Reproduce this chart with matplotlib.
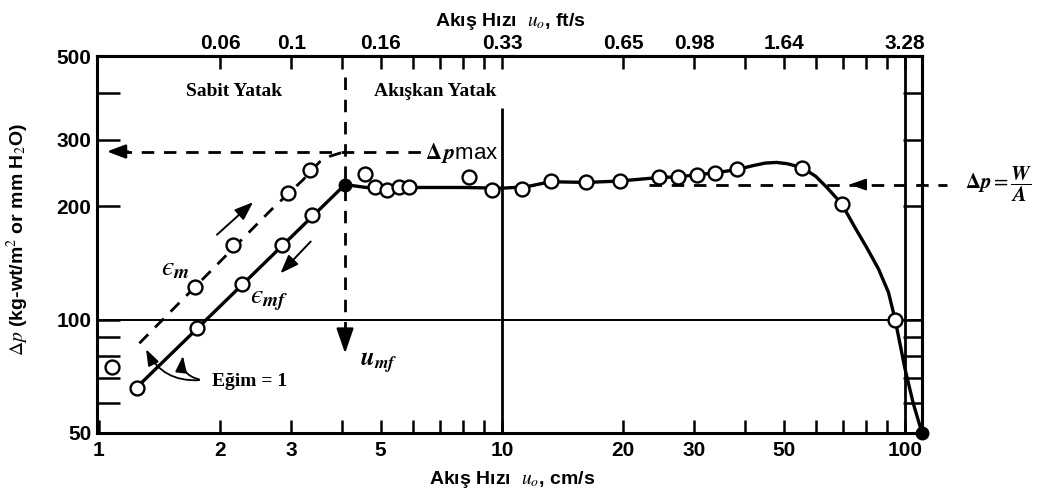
import matplotlib
matplotlib.use("Agg")
import matplotlib.pyplot as plt
from matplotlib.ticker import NullFormatter

plt.rcParams['font.family'] = ['Liberation Sans', 'DejaVu Sans']
plt.rcParams['mathtext.fontset'] = 'stix'

# fixed bed, falling velocity (eps_mf) - open circles
u_fixed = [1.24, 1.75, 2.26, 2.84, 3.37]
dp_fixed = [66, 95, 124, 158, 189]
# fixed bed, rising velocity (eps_m)
u_rise = [1.075, 1.73, 2.15, 2.95, 3.34]
dp_rise = [75, 122, 158, 216, 249]
# fluidized bed points
u_fluid = [4.57, 4.85, 5.19, 5.56, 5.89, 8.27, 9.47, 11.2, 13.2, 16.2, 19.6,
           24.5, 27.3, 30.4, 33.8, 38.4, 55.5, 69.6, 94.5]
dp_fluid = [243, 224, 221, 224, 224, 239, 221, 222, 233, 231, 233,
            239, 239, 242, 245, 250, 253, 203, 100]

# drawn solid curve through the falling-velocity data
curve_u = [1.24, 4.08, 4.6, 6.0, 8.0, 10.0, 11.5, 13.2, 16.2, 19.6, 24.5, 27.3,
           30.4, 33.8, 38.4, 42.0, 45.0, 48.0, 51.0, 55.5, 60.0, 64.0, 69.6,
           75.0, 80.4, 86.0, 91.0, 94.5, 100.0, 104.8, 110.2]
curve_dp = [66, 228, 224, 224, 224, 223, 225, 232, 231, 233, 238, 239,
            242, 245, 250, 256, 260, 261, 259, 253, 240, 224, 203,
            176, 155, 136, 118, 100, 74, 60, 50]
# dashed curve for rising velocity
dash_u = [1.26, 2.67, 3.2, 3.53, 3.74, 4.08]
dash_dp = [86.5, 195, 234, 262, 271, 279]

u_mf, dp_mf = 4.08, 228
u_end, dp_end = 110.2, 50
dp_max = 279
dp_wa = 228

x_major = [1, 2, 3, 5, 10, 20, 30, 50, 100]
x_minor = [4, 6, 7, 8, 9, 40, 60, 70, 80, 90]
top_cm = [2, 3, 5, 10, 20, 30, 50, 100]
top_ft = ['0.06', '0.1', '0.16', '0.33', '0.65', '0.98', '1.64', '3.28']
y_major = [50, 100, 200, 300, 500]
y_minor = [60, 70, 80, 90, 400]

fig = plt.figure(figsize=(10.53, 4.93), dpi=100)
ax = fig.add_axes([97 / 1053, 1 - 433 / 493, 825 / 1053, 377 / 493])
ax.set_xscale('log')
ax.set_yscale('log')
ax.set_xlim(0.989, 110.2)
ax.set_ylim(50, 500)

for s in ax.spines.values():
    s.set_linewidth(2.2)

ax.set_xticks(x_major, labels=[str(v) for v in x_major])
ax.set_xticks(x_minor, minor=True)
ax.xaxis.set_minor_formatter(NullFormatter())
ax.tick_params(axis='x', which='both', direction='in', length=9.5, width=1.8,
               labelsize=15, pad=6)
ax.set_yticks(y_major, labels=[str(v) for v in y_major])
ax.set_yticks(y_minor, minor=True)
ax.yaxis.set_minor_formatter(NullFormatter())
ax.tick_params(axis='y', which='both', direction='in', length=16.5, width=1.8,
               labelsize=15, pad=4)
for lab in ax.get_xticklabels() + ax.get_yticklabels():
    lab.set_fontweight('bold')

top = ax.secondary_xaxis('top')
top.set_xticks(top_cm, labels=top_ft)
top.set_xticks(x_minor, minor=True)
top.xaxis.set_minor_formatter(NullFormatter())
top.tick_params(which='both', direction='in', length=9.5, width=1.8,
                labelsize=15, pad=2)
for lab in top.get_xticklabels():
    lab.set_fontweight('bold')
top.spines['top'].set_linewidth(2.2)

right = ax.secondary_yaxis('right')
right.set_yticks(y_major + y_minor)
right.yaxis.set_major_formatter(NullFormatter())
right.yaxis.set_minor_locator(plt.NullLocator())
right.tick_params(which='both', direction='in', length=13.7, width=1.8)
right.spines['right'].set_linewidth(2.2)

# reference lines
ax.axhline(100, color='k', lw=1.4)
ax.vlines(10, 50, 365, color='k', lw=2)
ax.axvline(100, color='k', lw=2)

dash = (0, (4.5, 3.5))
ax.plot(curve_u, curve_dp, 'k-', lw=2.4, zorder=3)
ax.plot(dash_u, dash_dp, color='k', ls=dash, lw=2, zorder=3)

mk = dict(ls='none', marker='o', mfc='white', mec='k', ms=10, mew=1.7, zorder=4)
ax.plot(u_fixed, dp_fixed, **mk)
ax.plot(u_rise, dp_rise, **mk)
ax.plot(u_fluid, dp_fluid, **mk)
ax.plot([u_mf, u_end], [dp_mf, dp_end], 'ko', ms=9, zorder=5, clip_on=False)

# delta p max
ax.plot([1.12, 6.3], [dp_max, dp_max], color='k', ls=dash, lw=2)
ax.annotate('', xy=(1.03, dp_max), xytext=(1.2, dp_max),
            arrowprops=dict(arrowstyle='-|>,head_length=0.8,head_width=0.3',
                            color='k', lw=1.8, mutation_scale=14))
ax.text(6.43, 276, r'$\mathbf{\Delta}\,\mathbfit{p}$max', fontsize=16,
        ha='left', va='center')

# u_mf marker line
ax.plot([u_mf, u_mf], [440, 92], color='k', ls=dash, lw=2)
ax.annotate('', xy=(u_mf, 80), xytext=(u_mf, 95),
            arrowprops=dict(arrowstyle='-|>,head_length=1.1,head_width=0.38',
                            color='k', lw=1.6, mutation_scale=14))
ax.text(4.45, 77, r'$\mathbfit{u}_{\mathbfit{mf}}$', fontsize=18, ha='left',
        va='center')

# W/A line
ax.plot([23.2, 127], [dp_wa, dp_wa], color='k', ls=dash, lw=2, clip_on=False)
ax.annotate('', xy=(71.7, dp_wa), xytext=(78, dp_wa),
            arrowprops=dict(arrowstyle='-|>,head_length=0.7,head_width=0.25',
                            color='k', lw=1.4, mutation_scale=14))
ax.text(141, dp_wa, r'$\mathbf{\Delta}\mathbfit{p} = \dfrac{\mathbfit{W}}{\mathbfit{A}}$',
        fontsize=15, ha='left', va='center', clip_on=False)

# direction arrows
ax.annotate('', xy=(2.44, 207), xytext=(1.94, 166),
            arrowprops=dict(arrowstyle='-|>,head_length=0.8,head_width=0.3',
                            color='k', lw=1.4, mutation_scale=14))
ax.annotate('', xy=(2.79, 131), xytext=(3.39, 163),
            arrowprops=dict(arrowstyle='-|>,head_length=0.8,head_width=0.3',
                            color='k', lw=1.4, mutation_scale=14))
ax.text(1.544, 137, '$ϵ_{\\mathbfit{m}}$', fontsize=20, ha='center',
        va='center')
ax.text(2.65, 113, '$ϵ_{\\mathbfit{mf}}$', fontsize=20, ha='center',
        va='center')

# slope note
ax.annotate('', xy=(1.30, 84.7), xytext=(1.80, 69.1),
            arrowprops=dict(arrowstyle='-|>,head_length=0.7,head_width=0.25',
                            color='k', lw=1.3, mutation_scale=14,
                            connectionstyle='arc3,rad=-0.35'))
ax.annotate('', xy=(1.62, 81.4), xytext=(1.80, 69.1),
            arrowprops=dict(arrowstyle='-|>,head_length=0.7,head_width=0.25',
                            color='k', lw=1.3, mutation_scale=14,
                            connectionstyle='arc3,rad=-0.5'))
ax.text(1.905, 68.4, 'Eğim = 1', family='Liberation Serif', weight='bold',
        fontsize=14, ha='left', va='center')

ax.text(2.16, 402, 'Sabit Yatak', family='Liberation Serif', weight='bold',
        fontsize=14, ha='center', va='center')
ax.text(6.81, 402, 'Akışkan Yatak', family='Liberation Serif', weight='bold',
        fontsize=14, ha='center', va='center')

fig.text(512 / 1053, 1 - 480 / 493, r'Akış Hızı  $u_o$, cm/s', fontsize=14,
         fontweight='bold', ha='center', va='center')
fig.text(510 / 1053, 1 - 22 / 493, r'Akış Hızı  $u_o$, ft/s', fontsize=14,
         fontweight='bold', ha='center', va='center')
fig.text(18 / 1053, 1 - 240 / 493, r'$\Delta p$ (kg-wt/m$^2$ or mm H$_2$O)',
         fontsize=14, fontweight='bold', rotation=90, ha='center', va='center')

fig.savefig('out.png', dpi=100)
